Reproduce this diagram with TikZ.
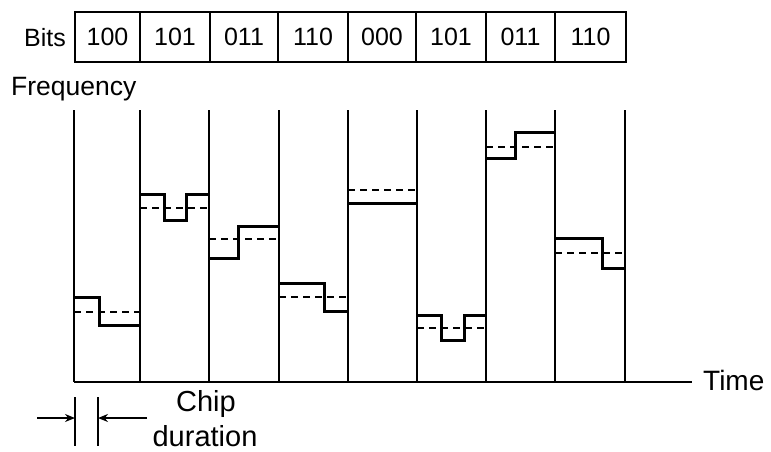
\documentclass[tikz,border=0pt]{standalone}
\usepackage{fontspec}
\setmainfont{Liberation Sans}
\usetikzlibrary{arrows.meta}
\begin{document}
\begin{tikzpicture}[x=1pt,y=-1pt,
  bitbox/.style={draw,line width=2.6pt,inner sep=0pt,minimum height=50pt,font=\fontsize{25}{27}\selectfont},
  lbl/.style={inner sep=0pt,font=\fontsize{25}{27}\selectfont},
  big/.style={inner sep=0pt,font=\fontsize{29}{33}\selectfont},
  grid/.style={line width=2.8pt},
  solid step/.style={line width=3pt,line join=miter},
  mid/.style={line width=2pt,dash pattern=on 7pt off 5pt},
  dim/.style={line width=1.6pt},
  dimarrow/.style={line width=1.6pt,-{Stealth[length=10pt,width=8pt]}}]
\useasboundingbox (0,0) rectangle (771,451);
% Bits row
\node[lbl,anchor=east] (bits) at (66,38) {Bits};
\foreach \i/\l/\r/\t in {1/75/140/100,2/140/210/101,3/210/278/011,4/278/348/110,5/348/416/000,6/416/486/101,7/486/555/011,8/555/626/110}{
  \node[bitbox,minimum width={\r-\l},anchor=center] (b\i) at ({(\l+\r)/2},37) {\t};
}
\node[lbl,anchor=west,font=\fontsize{26.5}{28}\selectfont] (freq) at (11,89) {Frequency};
% grid
\foreach \x [count=\k] in {74,140,209,279,348,417,486,555,625}{
  \coordinate (t\k) at (\x,110);
  \coordinate (u\k) at (\x,382);
  \draw[grid] (t\k) -- (u\k);
}
\coordinate (axend) at (692,382);
\draw[grid] (u1) -- (axend);
\node[lbl,anchor=west,font=\fontsize{28}{30}\selectfont] (time) at (703,380) {Time};
% dashed centre frequencies
\draw[mid] (74,312) -- (140,312);
\draw[mid] (140,208) -- (209,208);
\draw[mid] (209,239) -- (279,239);
\draw[mid] (279,297) -- (348,297);
\draw[mid] (348,190) -- (417,190);
\draw[mid] (417,328) -- (486,328);
\draw[mid] (486,147) -- (555,147);
\draw[mid] (555,253) -- (625,253);
% hop steps
\draw[solid step] (74,297) -- (99,297) -- (99,325) -- (140,325);
\draw[solid step] (140,194) -- (164,194) -- (164,220) -- (186,220) -- (186,194) -- (209,194);
\draw[solid step] (209,258) -- (238,258) -- (238,226) -- (279,226);
\draw[solid step] (279,283) -- (324,283) -- (324,311) -- (348,311);
\draw[solid step] (348,203) -- (417,203);
\draw[solid step] (417,315) -- (441,315) -- (441,340) -- (464,340) -- (464,315) -- (486,315);
\draw[solid step] (486,158) -- (515,158) -- (515,132) -- (555,132);
\draw[solid step] (555,238) -- (602,238) -- (602,268) -- (625,268);
% chip duration
\coordinate (c1t) at (75,397); \coordinate (c1b) at (75,446);
\coordinate (c2t) at (98,397); \coordinate (c2b) at (98,446);
\draw[dim] (c1t) -- (c1b);
\draw[dim] (c2t) -- (c2b);
\coordinate (a1s) at (37,418); \coordinate (a1e) at (75,418);
\coordinate (a2s) at (147,418); \coordinate (a2e) at (98,418);
\draw[dimarrow] (a1s) -- (a1e);
\draw[dimarrow] (a2s) -- (a2e);
\node[big] (chip) at (206,404) {Chip};
\node[big] (dur) at (205,436) {duration};
\end{tikzpicture}
\end{document}
